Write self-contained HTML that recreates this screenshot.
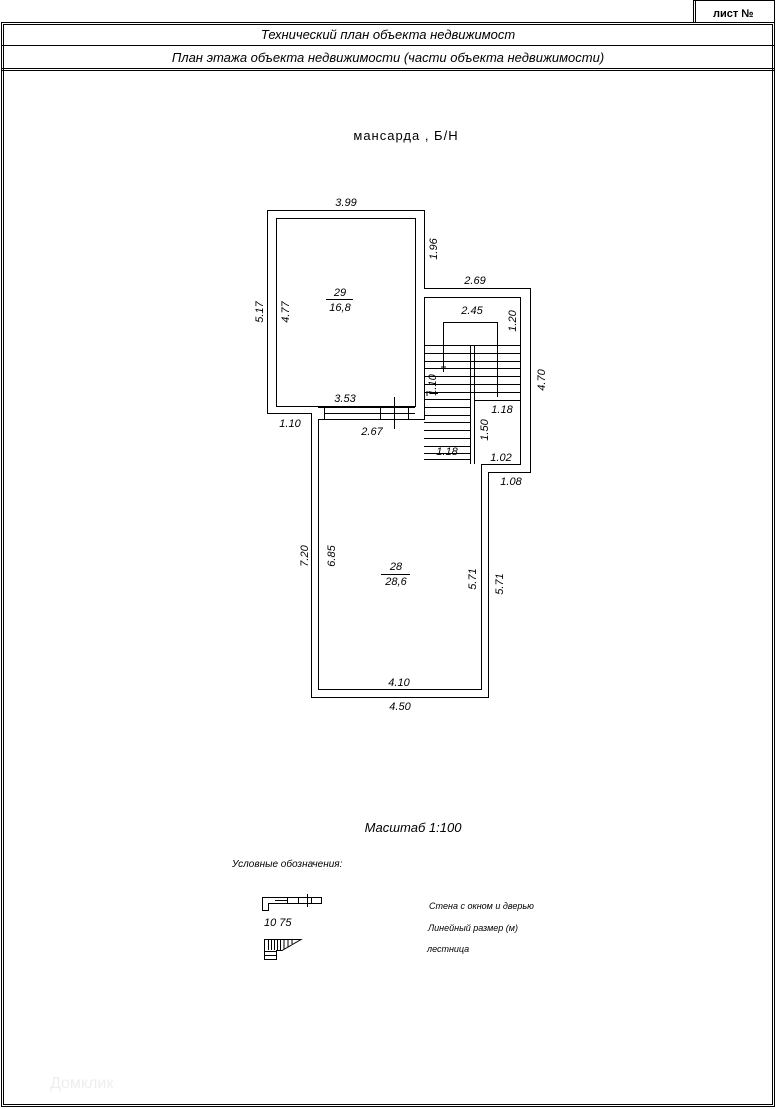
<!DOCTYPE html>
<html><head><meta charset="utf-8"><style>
html,body{margin:0;padding:0;background:#fff;}
svg{display:block}
text{font-family:"Liberation Sans",sans-serif;fill:#000;}
.i{font-style:italic;font-size:11px;}
</style></head><body>
<svg width="776" height="1109" viewBox="0 0 776 1109" xmlns="http://www.w3.org/2000/svg">
<g fill="none" stroke="#000" stroke-width="1">
<!-- frame -->
<rect x="1.5" y="22.5" width="773" height="1084"/>
<rect x="3.5" y="24.5" width="769" height="1080"/>
<line x1="2" y1="45.5" x2="774" y2="45.5"/>
<line x1="2" y1="68.5" x2="774" y2="68.5"/>
<line x1="2" y1="70.5" x2="774" y2="70.5"/>
<!-- sheet box -->
<line x1="693.5" y1="0" x2="693.5" y2="22"/>
<line x1="695.5" y1="0" x2="695.5" y2="22"/>
<line x1="774.5" y1="0" x2="774.5" y2="22"/>
<line x1="693" y1="0.5" x2="775" y2="0.5"/>
<!-- outer outline -->
<path d="M311.5 413.5 L267.5 413.5 L267.5 210.5 L424.5 210.5 L424.5 288.5 L530.5 288.5 L530.5 472.5 L488.5 472.5 L488.5 697.5 L311.5 697.5 Z"/>
<!-- top room inner -->
<rect x="276.5" y="218.5" width="139" height="188"/>
<!-- stair room inner -->
<path d="M424.5 297.5 L520.5 297.5 L520.5 464.5 L481.5 464.5 L481.5 689.5 L318.5 689.5 L318.5 419.5 L424.5 419.5 Z"/>
<!-- door/window between rooms -->
<line x1="318" y1="407.5" x2="415" y2="407.5"/>
<line x1="324" y1="413.5" x2="415" y2="413.5"/>
<line x1="324.5" y1="407" x2="324.5" y2="419"/>
<line x1="380.5" y1="407" x2="380.5" y2="419"/>
<line x1="408.5" y1="407" x2="408.5" y2="419"/>
<line x1="394.5" y1="397" x2="394.5" y2="429"/>
<!-- stairs -->
<line x1="470.5" y1="345" x2="470.5" y2="464"/>
<line x1="474.5" y1="345" x2="474.5" y2="464"/>
<line x1="424" y1="459.5" x2="470" y2="459.5"/>
<line x1="475" y1="400.5" x2="520" y2="400.5"/>
<g>
<line x1="424" y1="345.5" x2="520" y2="345.5"/>
<line x1="424" y1="353.5" x2="520" y2="353.5"/>
<line x1="424" y1="361.5" x2="520" y2="361.5"/>
<line x1="424" y1="368.5" x2="520" y2="368.5"/>
<line x1="424" y1="376.5" x2="520" y2="376.5"/>
<line x1="424" y1="384.5" x2="520" y2="384.5"/>
<line x1="424" y1="392.5" x2="520" y2="392.5"/>
<line x1="424" y1="399.5" x2="470" y2="399.5"/>
<line x1="424" y1="407.5" x2="470" y2="407.5"/>
<line x1="424" y1="415.5" x2="470" y2="415.5"/>
<line x1="424" y1="422.5" x2="470" y2="422.5"/>
<line x1="424" y1="430.5" x2="470" y2="430.5"/>
<line x1="424" y1="438.5" x2="470" y2="438.5"/>
<line x1="424" y1="446.5" x2="470" y2="446.5"/>
<line x1="424" y1="453.5" x2="470" y2="453.5"/>
</g>
<path d="M443.5 372 L443.5 322.5 L497.5 322.5 L497.5 397"/>
<line x1="441" y1="367" x2="446" y2="367"/>
<line x1="430" y1="393.5" x2="438" y2="393.5"/>
<line x1="427" y1="391" x2="427" y2="396"/>
<!-- legend icons -->
<path d="M262.5 897.5 L262.5 910.5 L268.5 910.5 L268.5 903.5 L321.5 903.5 L321.5 897.5 Z"/>
<line x1="275" y1="900.5" x2="287" y2="900.5"/>
<line x1="287.5" y1="897" x2="287.5" y2="904"/>
<line x1="298.5" y1="897" x2="298.5" y2="904"/>
<line x1="307.5" y1="894" x2="307.5" y2="907"/>
<line x1="311.5" y1="897" x2="311.5" y2="904"/>
<path d="M264.5 939.5 L264.5 959.5 L276.5 959.5 L276.5 950.5 L282 950.5 L301 939.5 Z"/>
<line x1="264" y1="951.5" x2="276" y2="951.5"/>
<line x1="264" y1="955.5" x2="276" y2="955.5"/>
<line x1="268.5" y1="940" x2="268.5" y2="950"/>
<line x1="271.5" y1="940" x2="271.5" y2="950"/>
<line x1="274.5" y1="940" x2="274.5" y2="950"/>
<line x1="277.5" y1="940" x2="277.5" y2="950"/>
<line x1="280.5" y1="940" x2="280.5" y2="950"/>
<line x1="284" y1="940" x2="284" y2="949"/>
<line x1="288" y1="940" x2="288" y2="947"/>
<line x1="292" y1="940" x2="292" y2="944"/>
<!-- 16.8 fraction lines -->
<line x1="326" y1="299.5" x2="353" y2="299.5"/>
<line x1="381" y1="574.5" x2="410" y2="574.5"/>
</g>
<text x="713" y="17" style="font-weight:bold;font-size:11px">лист №</text>
<text class="i" x="388" y="39" text-anchor="middle" style="font-size:13px">Технический план объекта недвижимост</text>
<text class="i" x="388" y="62" text-anchor="middle" style="font-size:13px">План этажа объекта недвижимости (части объекта недвижимости)</text>
<text x="406" y="140" text-anchor="middle" style="font-size:13px;letter-spacing:1px">мансарда , Б/Н</text>
<g class="i">
<text x="346" y="206" text-anchor="middle">3.99</text>
<text x="340" y="296" text-anchor="middle">29</text>
<text x="340" y="311" text-anchor="middle">16,8</text>
<text x="475" y="284" text-anchor="middle">2.69</text>
<text x="472" y="314" text-anchor="middle">2.45</text>
<text x="345" y="402" text-anchor="middle">3.53</text>
<text x="290" y="427" text-anchor="middle">1.10</text>
<text x="372" y="435" text-anchor="middle">2.67</text>
<text x="502" y="413" text-anchor="middle">1.18</text>
<text x="447" y="455" text-anchor="middle">1.18</text>
<text x="501" y="461" text-anchor="middle">1.02</text>
<text x="511" y="485" text-anchor="middle">1.08</text>
<text x="396" y="570" text-anchor="middle">28</text>
<text x="396" y="585" text-anchor="middle">28,6</text>
<text x="399" y="686" text-anchor="middle">4.10</text>
<text x="400" y="710" text-anchor="middle">4.50</text>
<text x="413" y="832" text-anchor="middle" style="font-size:13px">Масштаб 1:100</text>
<text x="232" y="867" style="font-size:10px">Условные обозначения:</text>
<text x="264" y="926" style="font-size:11px">10 75</text>
<text x="429" y="909" style="font-size:9px">Стена с окном и дверью</text>
<text x="428" y="931" style="font-size:9px">Линейный размер (м)</text>
<text x="427" y="952" style="font-size:9px">лестница</text>
<text transform="translate(437,249) rotate(-90)" text-anchor="middle">1.96</text>
<text transform="translate(263,312) rotate(-90)" text-anchor="middle">5.17</text>
<text transform="translate(289,312) rotate(-90)" text-anchor="middle">4.77</text>
<text transform="translate(516,321) rotate(-90)" text-anchor="middle">1.20</text>
<text transform="translate(545,380) rotate(-90)" text-anchor="middle">4.70</text>
<text transform="translate(436,385) rotate(-90)" text-anchor="middle">1.10</text>
<text transform="translate(488,430) rotate(-90)" text-anchor="middle">1.50</text>
<text transform="translate(308,556) rotate(-90)" text-anchor="middle">7.20</text>
<text transform="translate(335,556) rotate(-90)" text-anchor="middle">6.85</text>
<text transform="translate(476,579) rotate(-90)" text-anchor="middle">5.71</text>
<text transform="translate(503,584) rotate(-90)" text-anchor="middle">5.71</text>
</g>
<text x="50" y="1088" style="font-size:16px;fill:#eee">Домклик</text>
</svg>
</body></html>
